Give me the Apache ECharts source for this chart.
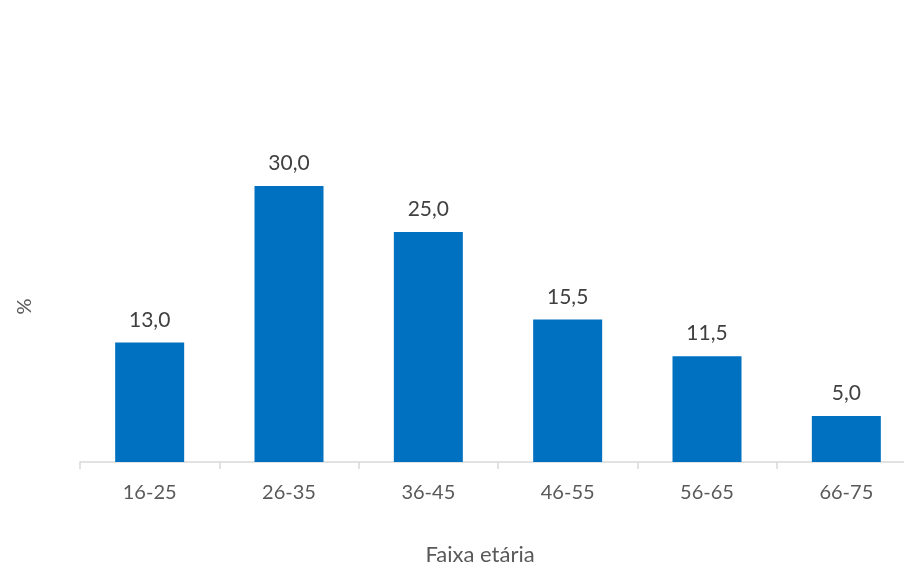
<!DOCTYPE html>
<html>
<head>
<meta charset="utf-8">
<script src="https://cdn.jsdelivr.net/npm/echarts@6/dist/echarts.min.js"></script>
<style>
  html, body { margin: 0; padding: 0; background: #fff; overflow: hidden; width: 904px; height: 571px; }
  #chart { width: 916px; height: 571px; }
</style>
</head>
<body>
<div id="chart"></div>
<script>
// faixas etárias e percentuais
const categories = ["16-25", "26-35", "36-45", "46-55", "56-65", "66-75"];
const percentValues = [13.0, 30.0, 25.0, 15.5, 11.5, 5.0];

const myChart = echarts.init(document.getElementById("chart"));
const font = "Lato, 'Open Sans', sans-serif";

const option = {
  animation: false,
  grid: { left: 80, right: 0, top: 151, bottom: 106.5 },
  xAxis: {
    type: "category",
    data: categories,
    name: "Faixa etária",
    nameLocation: "middle",
    nameGap: 82,
    nameTextStyle: { color: "#595959", fontSize: 22, fontFamily: font, padding: [0, 36, 0, 0] },
    axisLine: { lineStyle: { color: "#d9d9d9", width: 1.5 } },
    axisTick: { show: true, length: 7, lineStyle: { color: "#d9d9d9", width: 1.5 } },
    axisLabel: { color: "#595959", fontSize: 20, fontFamily: font, margin: 21 }
  },
  yAxis: {
    type: "value",
    min: 0,
    max: 33.8,
    name: "%",
    nameLocation: "middle",
    nameRotate: 90,
    nameGap: 45,
    nameTextStyle: { color: "#595959", fontSize: 20, fontFamily: font },
    axisLine: { show: false },
    axisTick: { show: false },
    axisLabel: { show: false },
    splitLine: { show: false }
  },
  series: [
    {
      type: "bar",
      data: percentValues,
      barWidth: 69,
      itemStyle: { color: "#0070C0" },
      label: {
        show: true,
        position: "top",
        distance: 12,
        color: "#404040",
        fontSize: 21,
        fontFamily: font,
        formatter: p => p.value.toFixed(1).replace(".", ",")
      }
    }
  ]
};
myChart.setOption(option);
</script>
</body>
</html>
